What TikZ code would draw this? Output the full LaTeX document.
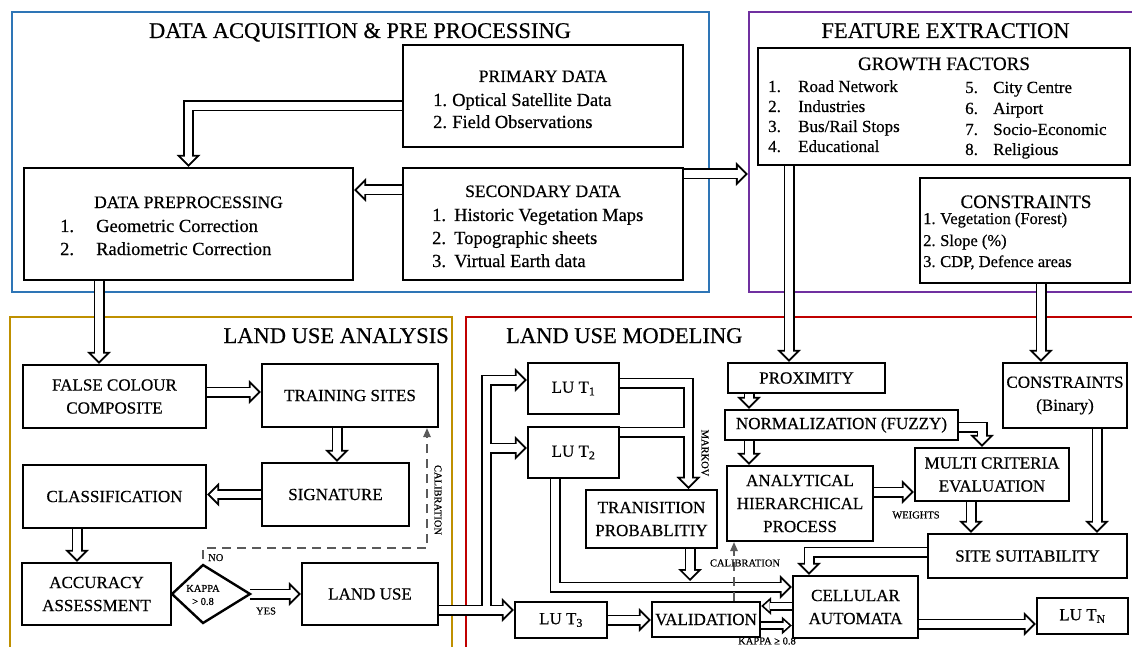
\documentclass[tikz,border=0pt]{standalone}
\usepackage{fontspec}
\setmainfont{Liberation Serif}[FakeBold=0.5]
\usetikzlibrary{arrows.meta}
\pgfdeclarelayer{frames}
\pgfdeclarelayer{arrows}
\pgfsetlayers{frames,arrows,main}
\definecolor{fblue}{HTML}{2E75B6}
\definecolor{fpurple}{HTML}{7030A0}
\definecolor{fgold}{HTML}{BF9000}
\definecolor{fred}{HTML}{C00000}
\definecolor{calgray}{HTML}{5A5A5A}
\newcommand\TitleFont{\fontsize{22.5}{27}\selectfont}
\newcommand\BoxFont{\fontsize{17}{23}\selectfont}
\newcommand\HeadFont{\fontsize{17.5}{23}\selectfont}
\newcommand\ListFont{\fontsize{18.5}{23}\selectfont}
\newcommand\GFTitle{\fontsize{19}{23}\selectfont}
\newcommand\ConsFont{\fontsize{16.5}{22}\selectfont}
\newcommand\SmallFont{\fontsize{10.5}{13}\selectfont}
\newcommand\harrow[1]{\draw[HAo] #1; \draw[HAi] #1;}
\newcommand\sarrow[1]{\draw[SAo] #1; \draw[SAi] #1;}
\begin{document}
\begin{tikzpicture}[x=1pt,y=-1pt,
  frame/.style={draw, line width=2.2pt, inner sep=0pt},
  box/.style={draw, line width=2.4pt, fill=white, inner sep=0pt, align=center, font=\BoxFont},
  txt/.style={inner sep=0pt, font=\BoxFont},
  ttl/.style={inner sep=0pt, font=\TitleFont},
  lst/.style={inner sep=0pt, font=\ListFont, anchor=base west},
  sml/.style={inner sep=0pt, font=\SmallFont},
  HAo/.style={line width=11pt, black, -{Triangle[length=12pt,width=24pt,line width=0pt]}},
  HAi/.style={line width=7.2pt, white, shorten >=2.7pt, -{Triangle[length=7.4pt,width=14.8pt,line width=0pt]}},
  SAo/.style={line width=9pt, black, -{Triangle[length=10pt,width=18pt,line width=0pt]}},
  SAi/.style={line width=5.6pt, white, shorten >=2.55pt, -{Triangle[length=5.75pt,width=10.35pt,line width=0pt]}},
  calib/.style={draw=calgray, line width=2pt, dash pattern=on 9pt off 6pt, -{Triangle[length=9pt,width=8pt,line width=0pt]}},
]
\useasboundingbox (0,0) rectangle (1132,647);

% ---------- frames ----------
\begin{pgfonlayer}{frames}
\node[frame, draw=fblue, minimum width=697pt, minimum height=280pt] (fDA) at (360.5,152) {};
\node[frame, draw=fpurple, minimum width=391pt, minimum height=280pt] (fFE) at (944.5,152) {};
\node[frame, draw=fgold, minimum width=442pt, minimum height=343pt] (fLA) at (231,488.5) {};
\node[frame, draw=fred, minimum width=674pt, minimum height=343pt] (fLM) at (803,488.5) {};
\end{pgfonlayer}

\node[ttl, anchor=base] (tDA) at (360,38) {DATA ACQUISITION \& PRE PROCESSING};
\node[ttl, anchor=base] (tFE) at (945.5,38) {FEATURE EXTRACTION};
\node[ttl, anchor=base east] (tLA) at (449,343) {LAND USE ANALYSIS};
\node[ttl, anchor=base west] (tLM) at (506,343) {LAND USE MODELING};

% ---------- data acquisition ----------
\node[box, minimum width=280pt, minimum height=102pt] (prim) at (543,96) {};
\node[txt, font=\HeadFont, anchor=base] (primT) at (543,82) {PRIMARY DATA};
\node[lst] (prim1) at (433,106) {\makebox[19pt][l]{1.}Optical Satellite Data};
\node[lst] (prim2) at (433,128) {\makebox[19pt][l]{2.}Field Observations};

\node[box, minimum width=280pt, minimum height=112pt] (sec) at (543,224) {};
\node[txt, font=\HeadFont, anchor=base] (secT) at (543,197) {SECONDARY DATA};
\node[lst] (sec1) at (432,221) {\makebox[22pt][l]{1.}Historic Vegetation Maps};
\node[lst] (sec2) at (432,244) {\makebox[22pt][l]{2.}Topographic sheets};
\node[lst] (sec3) at (432,267) {\makebox[22pt][l]{3.}Virtual Earth data};

\node[box, minimum width=329pt, minimum height=112pt] (dp) at (188.5,224) {};
\node[txt, font=\HeadFont, anchor=base] (dpT) at (188.5,208) {DATA PREPROCESSING};
\node[lst] (dp1) at (60,232) {\makebox[36pt][l]{1.}Geometric Correction};
\node[lst] (dp2) at (60,255) {\makebox[36pt][l]{2.}Radiometric Correction};

% ---------- feature extraction ----------
\node[box, minimum width=372pt, minimum height=117pt] (gf) at (944,106.5) {};
\node[txt, font=\GFTitle, anchor=base] (gfT) at (944,70) {GROWTH FACTORS};
\node[lst, font=\BoxFont] (gf1) at (768,92) {\makebox[30pt][l]{1.}Road Network};
\node[lst, font=\BoxFont] (gf2) at (768,112) {\makebox[30pt][l]{2.}Industries};
\node[lst, font=\BoxFont] (gf3) at (768,132) {\makebox[30pt][l]{3.}Bus/Rail Stops};
\node[lst, font=\BoxFont] (gf4) at (768,152) {\makebox[30pt][l]{4.}Educational};
\node[lst, font=\BoxFont] (gf5) at (965,93) {\makebox[28pt][l]{5.}City Centre};
\node[lst, font=\BoxFont] (gf6) at (965,114) {\makebox[28pt][l]{6.}Airport};
\node[lst, font=\BoxFont] (gf7) at (965,135) {\makebox[28pt][l]{7.}Socio-Economic};
\node[lst, font=\BoxFont] (gf8) at (965,155) {\makebox[28pt][l]{8.}Religious};

\node[box, minimum width=210pt, minimum height=105pt] (cons) at (1025,230.5) {};
\node[txt, font=\GFTitle, anchor=base] (consT) at (1026,208) {CONSTRAINTS};
\node[lst, font=\ConsFont] (cons1) at (923,224) {\makebox[17pt][l]{1.}Vegetation (Forest)};
\node[lst, font=\ConsFont] (cons2) at (923,246) {\makebox[17pt][l]{2.}Slope (\%)};
\node[lst, font=\ConsFont] (cons3) at (923,267) {\makebox[17pt][l]{3.}CDP, Defence areas};

% ---------- land use analysis ----------
\node[box, minimum width=183pt, minimum height=63pt] (fcc) at (114.5,396.5) {FALSE COLOUR\\COMPOSITE};
\node[box, minimum width=176pt, minimum height=63pt] (ts) at (350,395.5) {TRAINING SITES};
\node[box, minimum width=147pt, minimum height=63pt] (sig) at (335.5,494.5) {SIGNATURE};
\node[box, minimum width=183pt, minimum height=63pt] (cl) at (114.5,496.5) {CLASSIFICATION};
\node[box, minimum width=149pt, minimum height=62pt] (acc) at (96.5,594) {ACCURACY\\ASSESSMENT};
\node[box, minimum width=136pt, minimum height=62pt] (lu) at (370,594) {LAND USE};
\coordinate (kapW) at (172,594);
\coordinate (kapN) at (203,565);
\coordinate (kapE) at (250,594);
\coordinate (kapS) at (203,623);
\draw[line width=2.4pt, fill=white] (kapW) -- (kapN) -- (kapE) -- (kapS) -- cycle;
\node[sml, align=center] (kap) at (203,595) {KAPPA\\> 0.8};
\node[sml, anchor=base west] (no) at (208,561) {NO};
\node[sml] (yes) at (266,611) {YES};
\node[sml, rotate=-90] (cal1) at (438,500) {CALIBRATION};

% ---------- land use modeling ----------
\node[box, minimum width=91pt, minimum height=51pt] (t1) at (573.5,388.5) {LU T\textsubscript{1}};
\node[box, minimum width=91pt, minimum height=51pt] (t2) at (573.5,452.5) {LU T\textsubscript{2}};
\node[box, minimum width=131pt, minimum height=58pt] (tp) at (651.5,519) {TRANISITION\\PROBABLITIY};
\node[box, minimum width=92pt, minimum height=36pt] (t3) at (561,620) {LU T\textsubscript{3}};
\node[box, minimum width=108pt, minimum height=35pt] (val) at (706,619.5) {VALIDATION};
\node[box, minimum width=157pt, minimum height=30pt] (prox) at (806.5,378) {PROXIMITY};
\node[box, minimum width=233pt, minimum height=30pt] (norm) at (841.5,425) {NORMALIZATION (FUZZY)};
\node[box, minimum width=146pt, minimum height=75pt] (ahp) at (800,503.5) {ANALYTICAL\\HIERARCHICAL\\PROCESS};
\node[box, minimum width=154pt, minimum height=53pt] (mce) at (992,474.5) {MULTI CRITERIA\\EVALUATION};
\node[box, minimum width=124pt, minimum height=65pt] (cb) at (1065,395.5) {CONSTRAINTS\\(Binary)};
\node[box, minimum width=199pt, minimum height=44pt] (ss) at (1027.5,556) {SITE SUITABILITY};
\node[box, minimum width=125pt, minimum height=62pt] (ca) at (855.5,607) {CELLULAR\\AUTOMATA};
\node[box, minimum width=91pt, minimum height=36pt] (tn) at (1082.5,616) {LU T\textsubscript{N}};
\node[sml, rotate=-90] (mk) at (705,453) {MARKOV};
\node[sml] (wt) at (916,515) {WEIGHTS};
\node[sml] (cal2) at (745,563) {CALIBRATION};
\node[sml] (kp2) at (767,641) {KAPPA ≥ 0.8};

% ---------- connectors ----------
\begin{pgfonlayer}{arrows}
\coordinate (primO) at ([yshift=-10pt]prim.west);
\harrow{(primO) -| (dp.north)}
\coordinate (secO) at ([yshift=34pt]sec.west);
\harrow{(secO) -- (secO -| dp.east)}
\coordinate (secF) at ([yshift=50pt]sec.east);
\harrow{(secF) -- (secF -| fFE.west)}
\coordinate (dpO) at ([xshift=-89.5pt]dp.south);
\harrow{(dpO) -- (dpO |- fcc.north)}
\coordinate (fccO) at ([yshift=4.5pt]fcc.east);
\harrow{(fccO) -- (fccO -| ts.west)}
\coordinate (tsO) at ([xshift=-13pt]ts.south);
\harrow{(tsO) -- (tsO |- sig.north)}
\harrow{(sig.west) -- (sig.west -| cl.east)}
\coordinate (clO) at ([xshift=-37.5pt]cl.south);
\harrow{(clO) -- (clO |- acc.north)}
\harrow{(kapE) -- (kapE -| lu.west)}

% land use -> LU T1, T2, T3
\coordinate (luO) at ([yshift=-16pt]lu.east);
\coordinate (jx) at (486.5,610);
\coordinate (t1I) at ([yshift=8.5pt]t1.west);
\coordinate (t2I) at ([yshift=4.5pt]t2.west);
\draw[HAo] (luO) -| (jx |- t1I) -- (t1I);
\draw[HAo] (luO) -| (jx |- t2I) -- (t2I);
\draw[HAo] (luO) -- (luO -| t3.west);
\draw[HAi] (luO) -| (jx |- t1I) -- (t1I);
\draw[HAi] (luO) -| (jx |- t2I) -- (t2I);
\draw[HAi] (luO) -- (luO -| t3.west);

% Markov
\coordinate (t1O) at ([yshift=5.5pt]t1.east);
\coordinate (t2O) at ([yshift=20.5pt]t2.east);
\coordinate (tpI) at ([xshift=37pt]tp.north);
\draw[HAo] (t1O) -| (tpI);
\draw[HAo] (t2O) -| (tpI);
\draw[HAi] (t1O) -| (tpI);
\draw[HAi] (t2O) -| (tpI);

\coordinate (t2B) at ([xshift=-18.5pt]t2.south);
\coordinate (caI) at ([yshift=20pt]ca.west);
\harrow{(t2B) |- (caI)}
\coordinate (tpO) at ([xshift=38.5pt]tp.south);
\coordinate (tpE) at (690,581);
\harrow{(tpO) -- (tpE)}
\harrow{(t3.east) -- (t3.east -| val.west)}
\coordinate (caV) at ([yshift=1pt]ca.west);
\sarrow{(caV) -- (caV -| val.east)}
\coordinate (valC) at ([yshift=-6pt]val.east);
\sarrow{(valC) -- (valC -| ca.west)}
\coordinate (caO) at ([yshift=-17pt]ca.east);
\harrow{(caO) -- (caO -| tn.west)}

\coordinate (gfO) at ([xshift=-155pt]gf.south);
\harrow{(gfO) -- (gfO |- prox.north)}
\coordinate (consO) at ([xshift=16pt]cons.south);
\harrow{(consO) -- (consO |- cb.north)}
\coordinate (proxO) at ([xshift=-57.5pt]prox.south);
\harrow{(proxO) -- (proxO |- norm.north)}
\coordinate (normO) at ([xshift=-92.5pt]norm.south);
\harrow{(normO) -- (normO |- ahp.north)}
\coordinate (normE) at ([yshift=-2pt]norm.east);
\coordinate (mceI) at ([xshift=-10pt]mce.north);
\harrow{(normE) -| (mceI)}
\coordinate (ahpO) at ([yshift=11.5pt]ahp.east);
\harrow{(ahpO) -- (ahpO -| mce.west)}
\coordinate (mceO) at ([xshift=-21pt]mce.south);
\harrow{(mceO) -- (mceO |- ss.north)}
\coordinate (cbO) at ([xshift=32pt]cb.south);
\harrow{(cbO) -- (cbO |- ss.north)}
\coordinate (ssO) at ([yshift=4pt]ss.west);
\coordinate (caT) at ([xshift=-46.5pt]ca.north);
\harrow{(ssO) -| (caT)}

% calibration loops
\coordinate (noS) at (203,559);
\coordinate (calC) at (203,548);
\coordinate (tsC) at ([xshift=77pt]ts.south);
\draw[calib] (noS) -- (calC) -| (tsC);
\coordinate (valN) at ([xshift=28pt]val.north);
\draw[calib] (valN) -- (valN |- ahp.south);
\end{pgfonlayer}
\end{tikzpicture}
\end{document}
